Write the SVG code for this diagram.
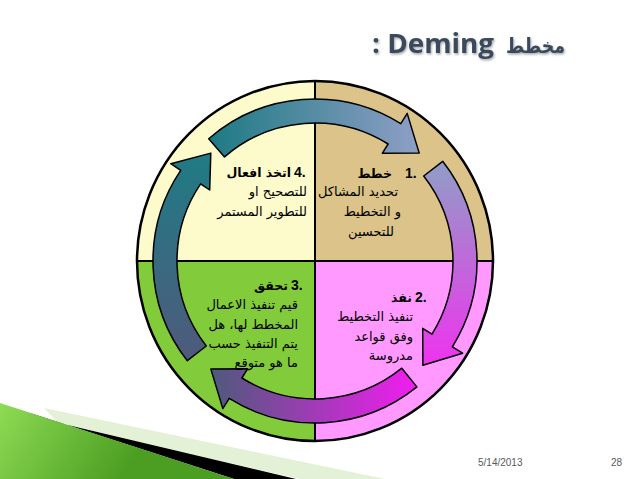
<svg xmlns="http://www.w3.org/2000/svg" width="638" height="479" viewBox="0 0 638 479">
<defs>
<style>
.ar{font-family:"DejaVu Sans","Noto Sans",sans-serif;font-size:13px;fill:#000}
.hd{font-family:"Liberation Sans","DejaVu Sans",sans-serif;font-size:14px;font-weight:bold;fill:#000}
.ha{font-family:"DejaVu Sans",sans-serif;font-size:12.5px;font-weight:bold;fill:#000}
.arw{stroke:#000;stroke-width:1.5;stroke-linejoin:round}
.div{stroke:#000;stroke-width:2}
.ft{font-family:"Liberation Sans",sans-serif;font-size:10px;fill:#595959}
</style>
<linearGradient id="g1" gradientUnits="userSpaceOnUse" x1="210" y1="0" x2="420" y2="0"><stop offset="0" stop-color="#1e7a84"/><stop offset="1" stop-color="#8f9fc6"/></linearGradient>
<linearGradient id="g2" gradientUnits="userSpaceOnUse" x1="0" y1="160" x2="0" y2="365"><stop offset="0" stop-color="#8f9fc6"/><stop offset="1" stop-color="#ee33ee"/></linearGradient>
<linearGradient id="g3" gradientUnits="userSpaceOnUse" x1="420" y1="0" x2="210" y2="0"><stop offset="0" stop-color="#f51cf2"/><stop offset="1" stop-color="#4d5a7b"/></linearGradient>
<linearGradient id="g4" gradientUnits="userSpaceOnUse" x1="0" y1="362" x2="0" y2="153"><stop offset="0" stop-color="#4f5a7b"/><stop offset="1" stop-color="#1f7b85"/></linearGradient>
<linearGradient id="gg" gradientUnits="userSpaceOnUse" x1="0" y1="400" x2="120" y2="479"><stop offset="0" stop-color="#8fdc55"/><stop offset="1" stop-color="#4c9e22"/></linearGradient>
<filter id="sh" x="-5%" y="-20%" width="110%" height="150%"><feDropShadow dx="1" dy="1.5" stdDeviation="0.8" flood-color="#000" flood-opacity="0.35"/></filter>
</defs>
<rect width="638" height="479" fill="#fff"/>

<g id="title" filter="url(#sh)">
<text x="372" y="53" font-family="'Open Sans','Liberation Sans',sans-serif" font-size="26" font-weight="bold" textLength="122" lengthAdjust="spacingAndGlyphs" fill="#3b4a5c">: Deming</text>
<text x="506" y="53" font-family="'DejaVu Sans',sans-serif" font-size="21" font-weight="bold" textLength="59" lengthAdjust="spacingAndGlyphs" fill="#3b4a5c">مخطط</text>
</g>

<g id="footer-deco">
<polygon points="44,408 385,479 300,479 60,425" fill="#e3f1d6"/>
<polygon points="38,418 296,479 234,479 30,413" fill="#000"/>
<polygon points="0,403 234,479 0,479" fill="url(#gg)"/>
</g>

<g id="wheel">
<path d="M315 261 L137 261 A178 180 0 0 1 315 81 Z" fill="#fdfbcc"/>
<path d="M315 261 L315 81 A178 180 0 0 1 493 261 Z" fill="#dcc38a"/>
<path d="M315 261 L493 261 A178 180 0 0 1 315 441 Z" fill="#ff99ff"/>
<path d="M315 261 L315 441 A178 180 0 0 1 137 261 Z" fill="#82cc3c"/>
<line class="div" x1="137" y1="261" x2="493" y2="261"/>
<line class="div" x1="315" y1="81" x2="315" y2="441"/>
<ellipse cx="315" cy="261" rx="178" ry="180" fill="none" stroke="#000" stroke-width="2.5"/>
</g>

<g id="connectors">
<path id="arrow-plan" class="arw" fill="url(#g1)" d="M208.7 138.7 A162 162 0 0 1 400.8 123.6 L407.2 113.4 L419.2 153.1 L382.3 153.3 L388.1 144.0 A138 138 0 0 0 224.5 156.9 Z"/>
<path id="arrow-do" class="arw" fill="url(#g2)" d="M442.7 161.3 A162 162 0 0 1 452.4 346.8 L462.6 353.2 L422.9 365.2 L422.7 328.3 L432.0 334.1 A138 138 0 0 0 423.7 176.0 Z"/>
<path id="arrow-check" class="arw" fill="url(#g3)" d="M416.9 386.9 A162 162 0 0 1 229.2 398.4 L222.8 408.6 L210.8 368.9 L247.7 368.7 L241.9 378.0 A138 138 0 0 0 401.8 368.2 Z"/>
<path id="arrow-act" class="arw" fill="url(#g4)" d="M187.3 360.7 A162 162 0 0 1 180.7 170.4 L170.8 163.7 L210.8 153.1 L209.7 190.0 L200.6 183.8 A138 138 0 0 0 206.3 346.0 Z"/>
</g>

<g id="node-plan">
<text class="hd" x="405" y="178">1.</text>
<text class="ha" x="392" y="178" text-anchor="end">خطط</text>
<text class="ar" x="398" y="196" text-anchor="end">تحديد المشاكل</text>
<text class="ar" x="401" y="216" text-anchor="end">و التخطيط</text>
<text class="ar" x="394" y="236" text-anchor="end">للتحسين</text>
</g>

<g id="node-do">
<text class="hd" x="415" y="302">2.</text>
<text class="ha" x="412" y="302" text-anchor="end">نفذ</text>
<text class="ar" x="413" y="321" text-anchor="end">تنفيذ التخطيط</text>
<text class="ar" x="413" y="341" text-anchor="end">وفق قواعد</text>
<text class="ar" x="413" y="360" text-anchor="end">مدروسة</text>
</g>

<g id="node-check">
<text class="hd" x="291" y="290">3.</text>
<text class="ha" x="288" y="290" text-anchor="end">تحقق</text>
<text class="ar" x="298" y="309" text-anchor="end">قيم تنفيذ الاعمال</text>
<text class="ar" x="298" y="329" text-anchor="end">المخطط لها، هل</text>
<text class="ar" x="298" y="348" text-anchor="end">يتم التنفيذ حسب</text>
<text class="ar" x="298" y="367" text-anchor="end">ما هو متوقع</text>
</g>

<g id="node-act">
<text class="hd" x="294" y="177">4.</text>
<text class="ha" x="291" y="177" text-anchor="end">اتخذ افعال</text>
<text class="ar" x="307" y="196" text-anchor="end">للتصحيح او</text>
<text class="ar" x="307" y="216" text-anchor="end">للتطوير المستمر</text>
</g>

<g id="footer">
<text class="ft" x="478" y="466">5/14/2013</text>
<text class="ft" x="611" y="466">28</text>
</g>
</svg>
